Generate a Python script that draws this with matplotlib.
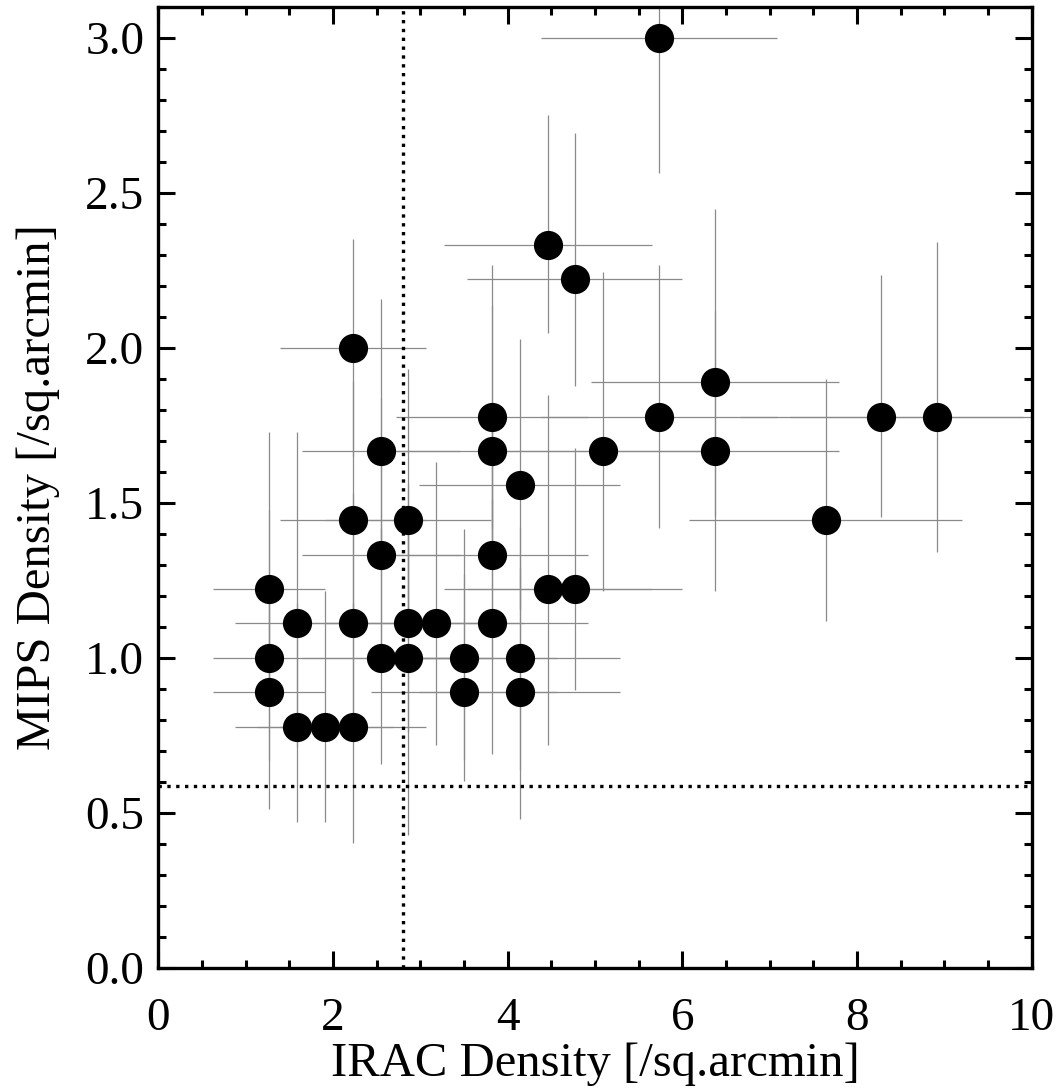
import matplotlib
matplotlib.use("Agg")
import matplotlib.pyplot as plt
from matplotlib.ticker import MultipleLocator, FormatStrFormatter

plt.rcParams['font.family'] = ['Liberation Serif', 'DejaVu Serif']

# data
irac = [1.27, 1.27, 1.27, 1.59, 1.59, 1.91, 2.23, 2.23, 2.23, 2.23,
        2.55, 2.55, 2.55, 2.86, 2.86, 2.86, 3.18, 3.50, 3.50, 3.82,
        3.82, 3.82, 3.82, 4.14, 4.14, 4.14, 4.46, 4.46, 4.77, 4.77,
        5.09, 5.73, 5.73, 6.37, 6.37, 7.64, 8.28, 8.91]
mips = [1.222, 1.000, 0.889, 1.111, 0.778, 0.778, 2.000, 1.444, 1.111, 0.778,
        1.667, 1.333, 1.000, 1.444, 1.111, 1.000, 1.111, 1.000, 0.889, 1.778,
        1.667, 1.333, 1.111, 1.556, 1.000, 0.889, 2.333, 1.222, 2.222, 1.222,
        1.667, 3.000, 1.778, 1.889, 1.667, 1.444, 1.778, 1.778]
irac_err = [0.64, 0.64, 0.64, 0.71, 0.71, 0.78, 0.84, 0.84, 0.84, 0.84,
            0.90, 0.90, 0.90, 0.95, 0.95, 0.95, 1.01, 1.06, 1.06, 1.10,
            1.10, 1.10, 1.10, 1.15, 1.15, 1.15, 1.19, 1.19, 1.23, 1.23,
            1.27, 1.35, 1.35, 1.42, 1.42, 1.56, 1.62, 1.68]
mips_err_hi = [0.505, 0.476, 0.33, 0.616, 0.40, 0.438, 0.35, 0.45, 0.42, 0.40,
               0.49, 0.504, 0.42, 0.489, 0.45, 0.45, 0.521, 0.417, 0.38, 0.489,
               0.47, 0.42, 0.40, 0.472, 0.423, 0.40, 0.417, 0.626, 0.472, 0.455,
               0.576, 0.44, 0.489, 0.56, 0.45, 0.454, 0.456, 0.562]
mips_err_lo = [0.37, 0.33, 0.377, 0.40, 0.306, 0.306, 0.35, 0.38, 0.35, 0.376,
               0.37, 0.36, 0.343, 0.36, 0.35, 0.571, 0.393, 0.33, 0.285, 0.36,
               0.36, 0.34, 0.422, 0.40, 0.362, 0.409, 0.284, 0.504, 0.345, 0.326,
               0.452, 0.436, 0.359, 0.43, 0.452, 0.325, 0.325, 0.437]
irac_cut = 2.80
mips_cut = 0.588

fig = plt.figure(figsize=(10.62, 10.92), dpi=100)
ax = fig.add_axes([0.149, 0.1136, 0.8225, 0.8803])

ax.errorbar(irac, mips, xerr=irac_err, yerr=[mips_err_lo, mips_err_hi],
            fmt='none', ecolor='#8a8a8a', elinewidth=0.9, capsize=0, zorder=2)
ax.plot(irac, mips, 'o', color='black', markersize=20, zorder=3, linestyle='none')

ax.axvline(irac_cut, color='black', linestyle=':', linewidth=2.4, zorder=4)
ax.axhline(mips_cut, color='black', linestyle=':', linewidth=2.4, zorder=4)

ax.set_xlim(0, 10)
ax.set_ylim(0, 3.1)
ax.xaxis.set_major_locator(MultipleLocator(2))
ax.xaxis.set_minor_locator(MultipleLocator(0.5))
ax.yaxis.set_major_locator(MultipleLocator(0.5))
ax.yaxis.set_minor_locator(MultipleLocator(0.1))
ax.yaxis.set_major_formatter(FormatStrFormatter('%.1f'))

ax.tick_params(which='both', direction='in', top=True, right=True, width=2.2)
ax.tick_params(which='major', length=12)
ax.tick_params(which='minor', length=6)
ax.tick_params(axis='x', which='major', labelsize=34, pad=21)
ax.tick_params(axis='y', which='major', labelsize=34, pad=10)
for s in ax.spines.values():
    s.set_linewidth(2.4)

ax.set_xlabel('IRAC Density [/sq.arcmin]', fontsize=35, labelpad=2)
ax.set_ylabel('MIPS Density [/sq.arcmin]', fontsize=35, labelpad=18)

fig.savefig('out.png', dpi=100)
